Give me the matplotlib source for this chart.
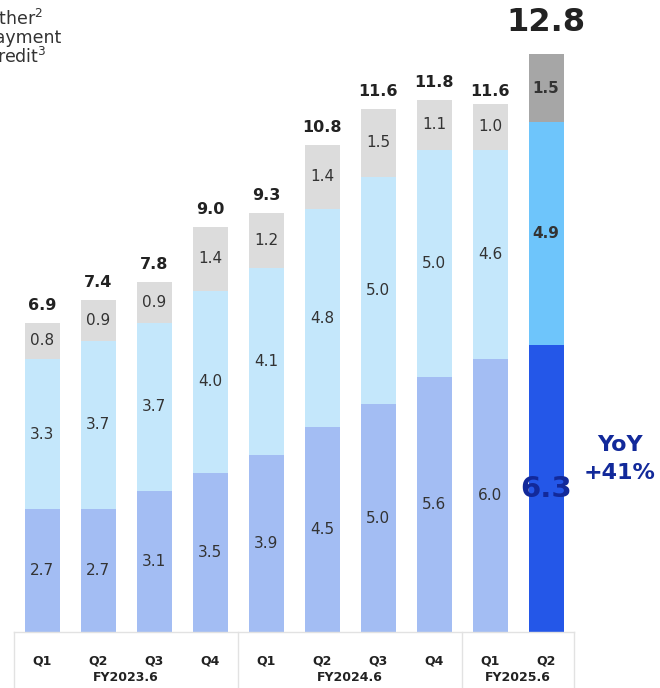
import numpy as np
import matplotlib.pyplot as plt

plt.rcParams['font.family'] = ['DejaVu Sans']

quarters = ['Q1', 'Q2', 'Q3', 'Q4', 'Q1', 'Q2', 'Q3', 'Q4', 'Q1', 'Q2']
fiscal_years = ['FY2023.6', 'FY2024.6', 'FY2025.6']
fy_sizes = [4, 4, 2]

credit = [2.7, 2.7, 3.1, 3.5, 3.9, 4.5, 5.0, 5.6, 6.0, 6.3]
payment = [3.3, 3.7, 3.7, 4.0, 4.1, 4.8, 5.0, 5.0, 4.6, 4.9]
other = [0.8, 0.9, 0.9, 1.4, 1.2, 1.4, 1.5, 1.1, 1.0, 1.5]
totals = [6.9, 7.4, 7.8, 9.0, 9.3, 10.8, 11.6, 11.8, 11.6, 12.8]
yoy_text = 'YoY\n+41%'

c_credit = ['#a3bdf3'] * 9 + ['#2457e8']
c_payment = ['#c4e7fb'] * 9 + ['#6ec5fb']
c_other = ['#dcdcdc'] * 9 + ['#a6a6a6']
navy = '#12299a'

fig = plt.figure(figsize=(6.6, 6.88), dpi=100)
ax = fig.add_axes([14 / 660, 56 / 688, 560 / 660, 612 / 688])
x = np.arange(len(quarters))
w = 0.625

credit = np.array(credit)
payment = np.array(payment)
other = np.array(other)
ax.bar(x, credit, w, color=c_credit)
ax.bar(x, payment, w, bottom=credit, color=c_payment)
ax.bar(x, other, w, bottom=credit + payment, color=c_other)

ax.set_xlim(-0.5, 9.5)
ax.set_ylim(0, 13.45)
ax.axis('off')

# segment values
for i in range(len(x)):
    last = i == len(x) - 1
    segs = [(credit[i], 0), (payment[i], credit[i]), (other[i], credit[i] + payment[i])]
    for k, (v, b) in enumerate(segs):
        if last and k == 0:
            ax.text(i, b + v / 2, f'{v:.1f}', ha='center', va='center',
                    fontsize=21, fontweight='bold', color=navy)
        elif last:
            ax.text(i, b + v / 2, f'{v:.1f}', ha='center', va='center',
                    fontsize=11, fontweight='bold', color='#333333')
        else:
            ax.text(i, b + v / 2, f'{v:.1f}', ha='center', va='center',
                    fontsize=11, color='#333333')
    if last:
        ax.text(i, totals[i] + 0.25, f'{totals[i]:.1f}', ha='center', va='bottom',
                fontsize=23, fontweight='bold', color='#222222')
    else:
        ax.text(i, totals[i] + 0.12, f'{totals[i]:.1f}', ha='center', va='bottom',
                fontsize=11.5, fontweight='bold', color='#222222')

ax.text(10.32, 3.8, yoy_text, ha='center', va='center', multialignment='center',
        fontsize=16, fontweight='bold', color=navy, linespacing=1.45, clip_on=False)

# category table under the bars
line_c = '#e2e2e2'
ax.plot([-0.5, 9.5], [0, 0], color=line_c, lw=1, clip_on=False)
edges = np.concatenate([[0], np.cumsum(fy_sizes)]) - 0.5
for e in edges:
    ax.plot([e, e], [0, -1.5], color=line_c, lw=1, clip_on=False)
for i, q in enumerate(quarters):
    ax.text(i, -0.64, q, ha='center', va='center', fontsize=9,
            fontweight='bold', color='#222222')
for j, fy in enumerate(fiscal_years):
    ax.text((edges[j] + edges[j + 1]) / 2, -1.0, fy, ha='center', va='center',
            fontsize=9, fontweight='bold', color='#222222')

# legend text at the top left
for label, yy in [('Other$^2$', 19), ('Payment', 38), ('Credit$^3$', 57)]:
    fig.text(-15 / 660, 1 - yy / 688, label, ha='left', va='center',
             fontsize=12.5, color='#333333')

fig.savefig('out.png', dpi=100)
